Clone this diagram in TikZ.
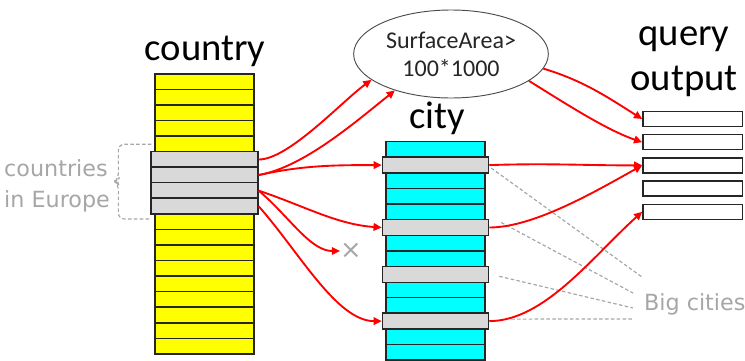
\documentclass[tikz,border=0pt]{standalone}
\usepackage{fontspec}
\setmainfont{Carlito}
\newfontfamily\notefont{DejaVu Sans}
\usepackage{tikz}
\usetikzlibrary{shapes.geometric,arrows.meta,positioning,calc}
\definecolor{rowyellow}{rgb}{1,1,0}
\definecolor{rowcyan}{rgb}{0,1,1}
\definecolor{rowgray}{rgb}{0.85,0.85,0.85}
\definecolor{notegray}{rgb}{0.65,0.65,0.65}

\begin{document}
\begin{tikzpicture}[x=0.03cm, y=-0.03cm,
    row/.style={draw=black!85, line width=1.3pt, inner sep=0pt, minimum width=2.97cm, minimum height=0.467cm},
    hit/.style={row, fill=rowgray, minimum width=3.2cm, minimum height=0.48cm},
    outbox/.style={row, fill=white, minimum width=2.99cm, minimum height=0.45cm},
    heading/.style={font=\fontsize{33}{38.4}\selectfont, text=black},
    link/.style={draw=red, line width=1.6pt, -{Triangle[length=7pt,width=6.5pt]}},
    note/.style={draw=notegray, line width=1pt, dash pattern=on 3pt off 2pt},
    notetext/.style={font=\notefont\fontsize{19}{26}\selectfont, text=notegray}
]
    \useasboundingbox (0,0) rectangle (745,361);

    % country table
    \foreach \i in {0,...,17}
        \node[row, fill=rowyellow] (c\i) at (204.5,{74+15.55*(\i+0.5)}) {};
    \foreach \i/\r in {1/5, 2/6, 3/7, 4/8}
        \node[hit] (ce\i) at (c\r) {};
    \node[heading, anchor=base] (ctitle) at (205,60) {country};

    % city table
    \foreach \i in {0,...,13}
        \node[row, fill=rowcyan, minimum height=0.468cm] (t\i) at (435.5,{141.7+15.6*(\i+0.5)}) {};
    \foreach \i/\r in {1/1, 2/5, 3/8, 4/11}
        \node[hit, minimum width=3.18cm] (cb\i) at (t\r) {};
    \node[heading, anchor=base] (ttitle) at (437,128) {city};

    % selection
    \node[ellipse, draw=black!70, line width=0.8pt, minimum width=5.46cm, minimum height=2.64cm,
          align=center, font=\fontsize{20.5}{24}\selectfont, text=black!85] (area) at (451,54) {SurfaceArea>\\100*1000};

    % query output
    \foreach \i in {1,...,5}
        \node[outbox] (q\i) at (692.8,{119+23.2*(\i-1)}) {};
    \node[heading, align=center] (qtitle) at (684,62) {query\\output};

    % notes
    \node[notetext, anchor=east, align=left] (eu) at (114,186) {countries\\in Europe};
    \coordinate (eutop) at ($(ce1.north west)+(1,-6.5)$);
    \coordinate (eubot) at ($(ce4.south west)+(1,4)$);
    \draw[note, rounded corners=5pt] (eutop) -- ++(-33,0) -- ($(eutop)!0.5!(eubot)+(-33,-3)$)
        -- ++(-3,3) -- ++(3,3) -- ($(eubot)+(-33,0)$) -- (eubot);

    \node[notetext, anchor=base west] (big) at (640,310) {Big cities};
    \coordinate (p1) at ($(big.base west)+(2,-33)$);
    \coordinate (p2) at ($(big.base west)+(-7,-17)$);
    \coordinate (p3) at ($(big.base west)+(-7,-2)$);
    \coordinate (p4) at ($(big.base west)+(-7,9)$);
    \draw[note] ($(cb1.east)+(2,3)$) -- (p1);
    \draw[note] ($(cb2.east)+(12,-5)$) -- (p2);
    \draw[note] ($(cb3.east)+(10,2)$) -- (p3);
    \draw[note] ($(cb4.east)+(22,-2)$) -- (p4);

    \node[text=notegray, font=\notefont\fontsize{22}{22}\selectfont, inner sep=0pt] (drop) at (351,251) {×};

    % joins
    \draw[link] (ce1.east) .. controls +(30,0) and +(-30,22) .. (area.198);
    \draw[link] (ce2.east) .. controls +(45,-8) and +(-40,32) .. (area.213);
    \draw[link] (ce2.east) .. controls +(45,-10) and +(-45,0) .. (cb1.west);
    \draw[link] (ce3.east) .. controls +(45,15) and +(-45,-3) .. (cb2.west);
    \draw[link] (ce3.east) .. controls +(30,25) and +(-30,0) .. (drop.west);
    \draw[link] (ce4.east) .. controls +(40,45) and +(-45,0) .. (cb4.west);
    \draw[link] (area.-9) .. controls +(40,12) and +(-35,-22) .. (q1.west);
    \draw[link] (area.-19) .. controls +(40,25) and +(-35,-12) .. (q2.west);
    \draw[link] (cb1.east) .. controls +(60,-2) and +(-60,0) .. (q3.west);
    \draw[link] (cb2.east) .. controls +(45,0) and +(-45,25) .. (q3.west);
    \draw[link] (cb4.east) .. controls +(55,0) and +(-50,45) .. (q5.west);
\end{tikzpicture}
\end{document}
